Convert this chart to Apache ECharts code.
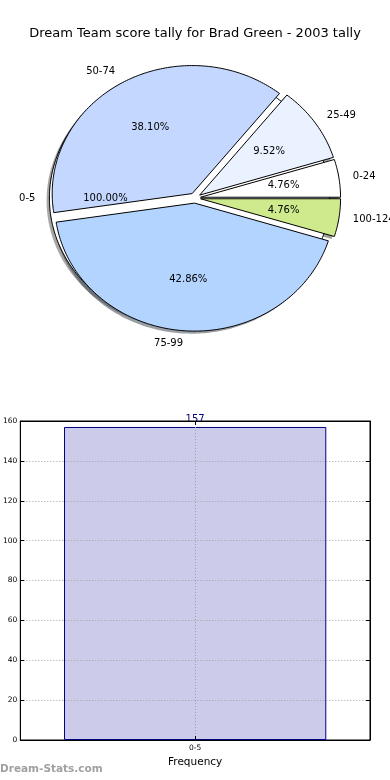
<!DOCTYPE html>
<html>
<head>
<meta charset="utf-8">
<script src="https://cdn.jsdelivr.net/npm/echarts@6/dist/echarts.min.js"></script>
<style>html,body{margin:0;padding:0;background:#fff}#c{width:390px;height:780px}</style>
</head>
<body>
<div id="c"></div>
<script>
// ---- data ----
const titleText = 'Dream Team score tally for Brad Green - 2003 tally';
const outerCategories = ['0-5'];
const outerValues = [157];
const innerCategories = ['0-24', '25-49', '50-74', '75-99', '100-124'];
const innerValues = [1, 2, 8, 9, 1];
const barCategories = ['0-5'];
const barValues = [157];
const yMin = 0, yMax = 160, yInterval = 20;

// ---- styles / layout ----
const FONT = 'DejaVu Sans';
const innerColors = ['#ffffff', '#eaf2ff', '#c4d8ff', '#b3d4ff', '#cfea8c'];
const outerColors = ['#ffffff'];
const PIE = {cx: 195, cy: 198, rx: 140, ry: 128, explode: 0.04, shadowDx: -0.02, shadowDy: -0.02};

function fractions(vals) {
  const tot = vals.reduce((a, b) => a + b, 0);
  let acc = 0;
  return vals.map(v => { const s = acc / tot; acc += v; return [s, acc / tot, v / tot]; });
}
const outerFr = fractions(outerValues);
const innerFr = fractions(innerValues);

function geom(fr) {
  const a0 = fr[0] * 360, a1 = fr[1] * 360, mid = (a0 + a1) / 2 * Math.PI / 180;
  const cx = PIE.cx + PIE.explode * PIE.rx * Math.cos(mid);
  const cy = PIE.cy - PIE.explode * PIE.ry * Math.sin(mid);
  return {a0, a1, mid, cx, cy, full: (a1 - a0) >= 359.999};
}
function wedgePoints(g, dx, dy) {
  const pts = [];
  if (!g.full) pts.push([g.cx + dx, g.cy + dy]);
  const n = Math.max(2, Math.ceil((g.a1 - g.a0) / 1));
  for (let i = 0; i <= n; i++) {
    const a = (g.a0 + (g.a1 - g.a0) * i / n) * Math.PI / 180;
    pts.push([g.cx + dx + PIE.rx * Math.cos(a), g.cy + dy - PIE.ry * Math.sin(a)]);
  }
  return pts;
}
function darken(hex) {
  const r = parseInt(hex.slice(1, 3), 16), g = parseInt(hex.slice(3, 5), 16), b = parseInt(hex.slice(5, 7), 16);
  return 'rgba(' + Math.round(r * 0.3) + ',' + Math.round(g * 0.3) + ',' + Math.round(b * 0.3) + ',0.5)';
}

const allWedges = outerFr.map((f, i) => ({fr: f, color: outerColors[i], name: outerCategories[i]}))
  .concat(innerFr.map((f, i) => ({fr: f, color: innerColors[i], name: innerCategories[i]})));

function wedgeSeries(list, z, shadow) {
  return {
    type: 'custom', coordinateSystem: 'none', z: z, silent: true,
    data: list.map((w, i) => [i, w.fr[0], w.fr[1]]),
    renderItem: function (params, api) {
      const w = list[params.dataIndex];
      const g = geom([api.value(1), api.value(2)]);
      if (shadow) {
        return {type: 'polygon', shape: {points: wedgePoints(g, PIE.shadowDx * PIE.rx, -PIE.shadowDy * PIE.ry)},
          style: {fill: darken(w.color), stroke: null}};
      }
      return {type: 'polygon', shape: {points: wedgePoints(g, 0, 0)},
        style: {fill: w.color, stroke: '#000', lineWidth: 1}};
    }
  };
}

const labelSeries = {
  type: 'custom', coordinateSystem: 'none', z: 10, silent: true,
  data: allWedges.map((w, i) => [i, w.fr[0], w.fr[1], w.fr[2]]),
  renderItem: function (params, api) {
    const w = allWedges[params.dataIndex];
    const g = geom([api.value(1), api.value(2)]);
    const c = Math.cos(g.mid), s = Math.sin(g.mid);
    const pct = (api.value(3) * 100).toFixed(2) + '%';
    return {type: 'group', children: [
      {type: 'text', x: g.cx + 1.1 * PIE.rx * c, y: g.cy - 1.1 * PIE.ry * s,
        style: {text: w.name, fill: '#000', font: '10px "' + FONT + '"', align: c > 0 ? 'left' : 'right', verticalAlign: 'middle'}},
      {type: 'text', x: g.cx + 0.6 * PIE.rx * c, y: g.cy - 0.6 * PIE.ry * s,
        style: {text: pct, fill: '#000', font: '10px "' + FONT + '"', align: 'center', verticalAlign: 'middle'}}
    ]};
  }
};

const chart = echarts.init(document.getElementById('c'), null, {renderer: 'canvas'});
const dotted = {show: true, lineStyle: {color: '#a0a0a0', type: [1, 2], width: 1}};
const axLine = {show: true, onZero: false, lineStyle: {color: '#000'}};
chart.setOption({
  animation: false,
  backgroundColor: '#fff',
  textStyle: {fontFamily: FONT},
  title: {text: titleText, left: 'center', top: 22, textStyle: {fontSize: 13, fontWeight: 'normal', color: '#000', fontFamily: FONT}},
  graphic: [{type: 'text', left: 0, top: 764, style: {text: 'Dream-Stats.com', fill: '#a0a0a0', font: 'bold 10.5px "' + FONT + '"'}}],
  grid: {left: 19, top: 421, width: 351, height: 319, show: true, borderColor: '#000', borderWidth: 1, backgroundColor: 'transparent'},
  xAxis: [
    {type: 'category', data: barCategories, position: 'bottom', z: 5,
      axisLine: axLine,
      axisTick: {show: true, inside: true, length: 4, alignWithLabel: true, lineStyle: {color: '#000'}},
      axisLabel: {fontSize: 7.5, color: '#000', margin: 4, fontFamily: FONT},
      splitLine: {show: false},
      name: 'Frequency', nameLocation: 'middle', nameGap: 17, nameTextStyle: {fontSize: 10.5, color: '#000', fontFamily: FONT}},
    {type: 'value', position: 'top', min: -1, max: 1, interval: 1, z: 5,
      axisLine: axLine,
      axisTick: {show: true, inside: true, length: 4, lineStyle: {color: '#000'}},
      axisLabel: {show: false}, splitLine: dotted}
  ],
  yAxis: [
    {type: 'value', min: yMin, max: yMax, interval: yInterval, position: 'left', z: 5,
      axisLine: axLine,
      axisTick: {show: true, inside: true, length: 4, lineStyle: {color: '#000'}},
      axisLabel: {fontSize: 7.5, color: '#000', margin: 3, fontFamily: FONT},
      splitLine: dotted},
    {type: 'value', min: yMin, max: yMax, interval: yInterval, position: 'right', z: 5,
      axisLine: axLine,
      axisTick: {show: true, inside: true, length: 4, lineStyle: {color: '#000'}},
      axisLabel: {show: false}, splitLine: {show: false}}
  ],
  series: [
    wedgeSeries(allWedges, 1, true),
    wedgeSeries(allWedges.slice(0, outerFr.length), 2, false),
    wedgeSeries(allWedges.slice(outerFr.length), 3, false),
    labelSeries,
    {type: 'bar', xAxisIndex: 0, yAxisIndex: 0, data: barValues, barWidth: '75%', z: 2,
      itemStyle: {color: '#ccccea', borderColor: '#000080', borderWidth: 1},
      label: {show: true, position: 'top', distance: 3, color: '#000080', fontSize: 10, fontFamily: FONT}}
  ]
});
</script>
</body>
</html>
